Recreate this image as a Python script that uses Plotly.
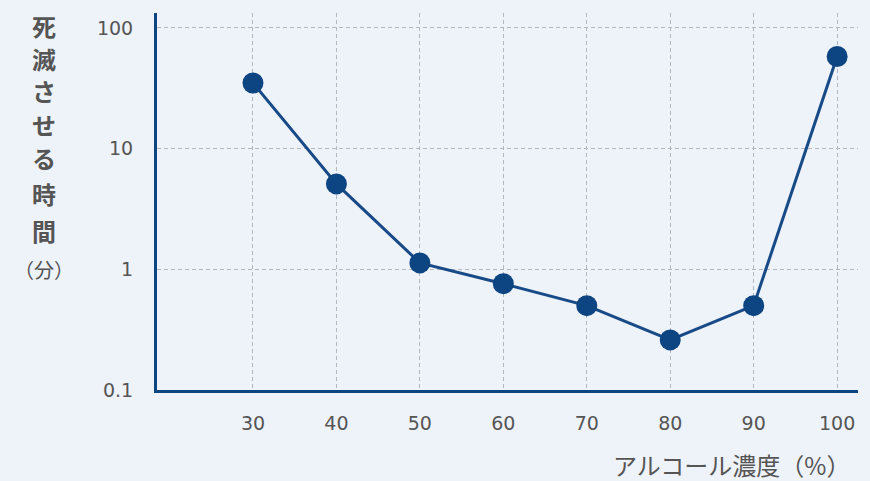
import plotly.graph_objects as go

concentration = [30, 40, 50, 60, 70, 80, 90, 100]
kill_time_min = [35, 5.1, 1.13, 0.76, 0.5, 0.26, 0.5, 58]
x_ticks = [30, 40, 50, 60, 70, 80, 90, 100]
y_ticks = [0.1, 1, 10, 100]
y_tick_labels = ["0.1", "1", "10", "100"]
y_title_chars = ["死", "滅", "さ", "せ", "る", "時", "間"]
y_title_unit = "（分）"
x_title = "アルコール濃度（%）"

navy = "#0d4582"
grid = "#b3b7bf"
gray = "#555555"
bg = "#eef2f9"
cjk = "Noto Sans CJK JP, Noto Sans, sans-serif"
digits = "DejaVu Sans, Noto Sans, sans-serif"

W, H = 870, 481
L, R, T, B = 157, 12, 13, 91
PW, PH = W - L - R, H - T - B


def px(xp):
    return (xp - L) / PW


def py(yp):
    return 1 - (yp - T) / PH


fig = go.Figure()
fig.add_trace(go.Scatter(
    x=concentration, y=kill_time_min, mode="lines+markers",
    line=dict(color="#174a86", width=3),
    marker=dict(color=navy, size=21),
    hoverinfo="x+y", showlegend=False,
))

fig.update_layout(
    width=W, height=H,
    margin=dict(l=L, r=R, t=T, b=B),
    paper_bgcolor=bg, plot_bgcolor=bg,
    font=dict(family=digits, color=gray, size=18),
    xaxis=dict(
        range=[18.5, 102.5], tickvals=x_ticks, ticktext=[str(v) for v in x_ticks],
        showline=True, linecolor=navy, linewidth=3,
        showgrid=True, gridcolor=grid, gridwidth=1, griddash="4px,3px",
        zeroline=False, ticks="", ticklabelstandoff=14,
        tickfont=dict(size=19, color=gray, family=digits),
    ),
    yaxis=dict(
        type="log", range=[-1, 2.124], tickvals=y_ticks, ticktext=y_tick_labels,
        showline=True, linecolor=navy, linewidth=3,
        showgrid=True, gridcolor=grid, gridwidth=1, griddash="4px,3px",
        zeroline=False, ticks="", ticklabelstandoff=17,
        tickfont=dict(size=19, color=gray, family=digits),
    ),
)

char_centers = [25, 58, 91, 124, 157, 193, 230]
for ch, yc in zip(y_title_chars, char_centers):
    fig.add_annotation(
        text=ch, xref="paper", yref="paper", x=px(44), y=py(yc),
        xanchor="center", yanchor="middle", showarrow=False,
        font=dict(size=24, color=gray, family=cjk, weight="bold"),
    )
fig.add_annotation(
    text=y_title_unit, xref="paper", yref="paper", x=px(44), y=py(269),
    xanchor="center", yanchor="middle", showarrow=False,
    font=dict(size=20, color=gray, family=cjk),
)
fig.add_annotation(
    text=x_title, xref="paper", yref="paper", x=px(852), y=py(464),
    xanchor="right", yanchor="middle", showarrow=False,
    font=dict(size=24, color=gray, family=cjk),
)

fig.write_html("out.html", config={"displayModeBar": False},
               post_script="document.body.style.margin='0';")
